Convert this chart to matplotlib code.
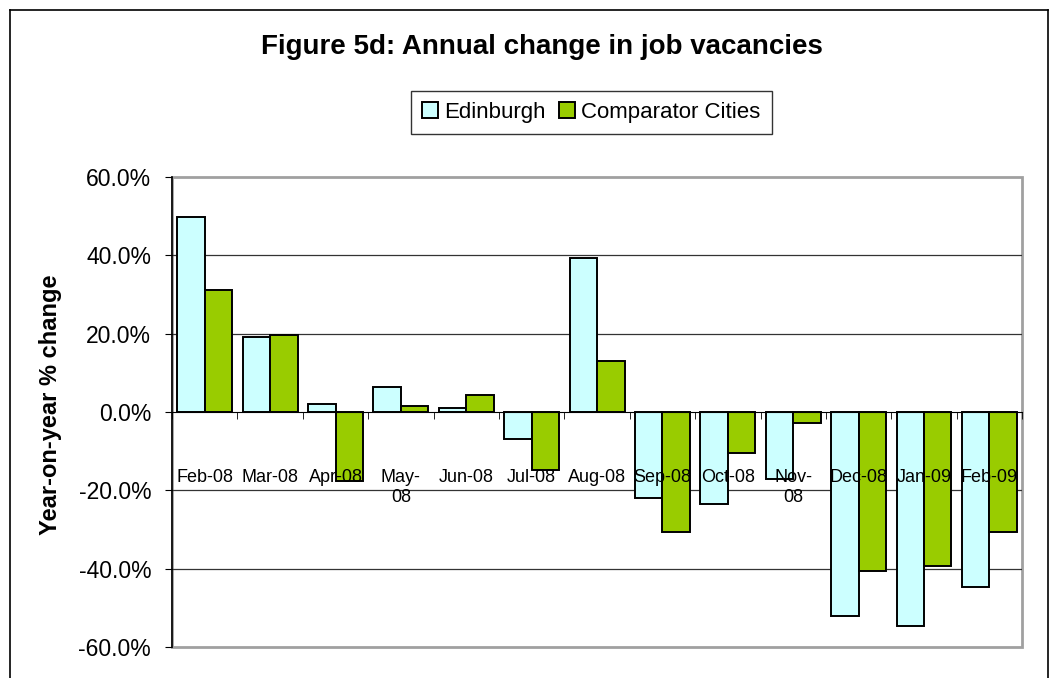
import numpy as np
import matplotlib
matplotlib.use("Agg")
import matplotlib.pyplot as plt
from matplotlib.patches import Rectangle
from matplotlib.lines import Line2D
from matplotlib.ticker import FuncFormatter, MultipleLocator

# ─────────────────────────────────────────────
# Data (% change)
# ─────────────────────────────────────────────
MONTHS = ["Feb-08", "Mar-08", "Apr-08", "May-\n08", "Jun-08", "Jul-08", "Aug-08",
          "Sep-08", "Oct-08", "Nov-\n08", "Dec-08", "Jan-09", "Feb-09"]
EDINBURGH  = [49.8, 19.1, 2.0, 6.3, 0.9, -6.8, 39.2, -22.0, -23.5, -17.2, -52.2, -54.6, -44.6]
COMPARATOR = [31.1, 19.6, -17.6, 1.5, 4.3, -14.8, 12.9, -30.6, -10.5, -2.8, -40.7, -39.3, -30.6]

COL_EDI  = "#CCFFFF"
COL_COMP = "#99CC00"
FONT = ["Liberation Sans", "DejaVu Sans"]

plt.rcParams["font.family"] = FONT

fig = plt.figure(figsize=(10.6, 6.78), dpi=100)
ax = fig.add_axes([0.1623, 0.0457, 0.8019, 0.6932])

x = np.arange(len(MONTHS))
w = 0.42
ax.bar(x - w / 2, EDINBURGH, w, color=COL_EDI, edgecolor="black", linewidth=1.4,
       label="Edinburgh", zorder=2)
ax.bar(x + w / 2, COMPARATOR, w, color=COL_COMP, edgecolor="black", linewidth=1.4,
       label="Comparator Cities", zorder=2)

ax.set_xlim(-0.5, len(MONTHS) - 0.5)
ax.set_ylim(-60, 60)

# gridlines (behind the bars)
for g in [40, 20, -20, -40]:
    ax.axhline(g, color="#333333", linewidth=0.9, zorder=1)

# plot-area border
ax.add_patch(Rectangle((0, 0), 1, 1, transform=ax.transAxes, fill=False,
                       edgecolor="#A0A0A0", linewidth=2, zorder=0.5, clip_on=False))

for s in ["top", "right"]:
    ax.spines[s].set_visible(False)
ax.spines["bottom"].set_position(("data", 0))
ax.spines["bottom"].set_zorder(4)
ax.spines["left"].set_color("black")
ax.spines["left"].set_linewidth(1.2)
ax.xaxis.set_zorder(5)   # category labels sit on top of the bars

ax.yaxis.set_major_locator(MultipleLocator(20))
ax.yaxis.set_major_formatter(FuncFormatter(lambda v, p: f"{v:.1f}%"))
ax.tick_params(axis="y", direction="out", length=5, pad=10, labelsize=16.5)

ax.set_xticks(x)
ax.set_xticklabels(MONTHS, fontsize=13, linespacing=1.25)
ax.set_xticks(np.arange(len(MONTHS) + 1) - 0.5, minor=True)
ax.tick_params(axis="x", which="major", length=0, pad=41)
ax.tick_params(axis="x", which="minor", direction="out", length=5)

fig.text(50 / 1060, 1 - 405 / 678, "Year-on-year % change", rotation=90,
         ha="center", va="center", fontsize=17, fontweight="bold")

fig.text(0.511, 0.930, "Figure 5d: Annual change in job vacancies",
         ha="center", va="center", fontsize=20, fontweight="bold")

leg = fig.legend(loc="center", bbox_to_anchor=(0.558, 0.834), ncol=2, fontsize=16,
                 frameon=True, fancybox=False, edgecolor="black", handlelength=0.7,
                 handleheight=0.7, handletextpad=0.3, columnspacing=0.6,
                 borderpad=0.5)
leg.get_frame().set_linewidth(1.0)

# outer chart frame
fig.add_artist(Line2D([10 / 1060, 1048 / 1060], [1 - 10 / 678, 1 - 10 / 678],
                      color="black", linewidth=1.2))
fig.add_artist(Line2D([10 / 1060, 10 / 1060], [0, 1 - 10 / 678],
                      color="black", linewidth=1.2))
fig.add_artist(Line2D([1048 / 1060, 1048 / 1060], [0, 1 - 10 / 678],
                      color="black", linewidth=1.2))

fig.savefig("out.png", dpi=100)
